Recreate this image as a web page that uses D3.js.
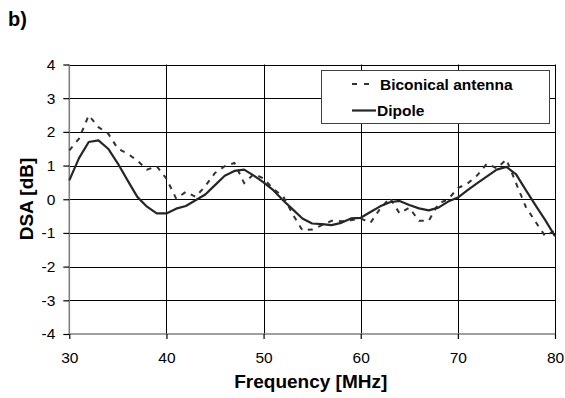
<!DOCTYPE html>
<html>
<head>
<meta charset="utf-8">
<script src="https://cdn.jsdelivr.net/npm/d3@7"></script>
<style>
  html, body { margin: 0; padding: 0; background: #fff; }
  svg { display: block; font-family: "Liberation Sans", Arial, sans-serif; }
</style>
</head>
<body>
<svg id="chart" width="565" height="398"></svg>
<script>
// Frequency points (MHz)
const frequencies = [30,31,32,33,34,35,36,37,38,39,40,41,42,43,44,45,46,47,48,49,50,
  51,52,53,54,55,56,57,58,59,60,61,62,63,64,65,66,67,68,69,70,
  71,72,73,74,75,76,77,78,79,80];

// DSA measured with the biconical antenna [dB]
const biconical = [1.45,1.80,2.49,2.14,1.95,1.50,1.35,1.15,0.88,0.98,0.61,
  0.02,0.22,0.07,0.39,0.78,0.98,1.08,0.48,0.75,0.62,
  0.30,0.10,-0.45,-0.92,-0.90,-0.77,-0.64,-0.65,-0.62,-0.57,
  -0.70,-0.28,0.04,-0.42,-0.25,-0.64,-0.64,-0.13,0.00,0.33,
  0.47,0.71,1.06,0.92,1.18,0.47,-0.23,-0.67,-1.10,-0.92];

// DSA measured with the dipole [dB]
const dipole = [0.56,1.22,1.70,1.75,1.50,1.06,0.56,0.07,-0.22,-0.42,-0.42,
  -0.28,-0.20,-0.03,0.14,0.42,0.70,0.84,0.88,0.70,0.50,
  0.27,-0.03,-0.30,-0.57,-0.72,-0.74,-0.77,-0.70,-0.57,-0.55,
  -0.38,-0.21,-0.09,-0.05,-0.17,-0.27,-0.33,-0.25,-0.07,0.05,
  0.27,0.48,0.68,0.88,0.96,0.74,0.27,-0.18,-0.62,-1.10];

const xTicks = [30,40,50,60,70,80];
const yTicks = [-4,-3,-2,-1,0,1,2,3,4];
const seriesNames = ["Biconical antenna", "Dipole"];

const svg = d3.select("#chart");
const plotLeft = 69.3, plotRight = 555, plotTop = 64.5, plotBottom = 334;

const x = d3.scaleLinear().domain([30, 80]).range([plotLeft, plotRight]);
const y = d3.scaleLinear().domain([-4, 4]).range([plotBottom, plotTop]);

// grid
const grid = svg.append("g");
grid.selectAll("line.h").data(yTicks.filter(d => d > -4)).join("line")
  .attr("x1", plotLeft).attr("x2", plotRight)
  .attr("y1", d => Math.round(y(d)) + 0.5).attr("y2", d => Math.round(y(d)) + 0.5)
  .attr("stroke", "#000").attr("stroke-width", 1);
grid.selectAll("line.v").data(xTicks.filter(d => d > 30)).join("line")
  .attr("y1", plotTop).attr("y2", plotBottom)
  .attr("x1", d => Math.round(x(d)) + 0.5).attr("x2", d => Math.round(x(d)) + 0.5)
  .attr("stroke", "#000").attr("stroke-width", 1);

// axes (plain hyphen for negative labels)
const plain = d => String(d);
const yAxis = svg.append("g")
  .attr("transform", `translate(${plotLeft},0)`)
  .call(d3.axisLeft(y).tickValues(yTicks).tickSize(6).tickPadding(8).tickFormat(plain));
const xAxis = svg.append("g")
  .attr("transform", `translate(0,${plotBottom})`)
  .call(d3.axisBottom(x).tickValues(xTicks).tickSize(5).tickPadding(13).tickFormat(plain));

[yAxis, xAxis].forEach(a => {
  a.select(".domain").attr("stroke", "#808080").attr("stroke-width", 1.6);
  a.selectAll(".tick line").attr("stroke", "#000").attr("stroke-width", 1.2);
  a.selectAll(".tick text").attr("font-size", "15.5px").attr("fill", "#000")
    .attr("font-family", "Liberation Sans, Arial, sans-serif");
});
xAxis.select(".domain").attr("d", `M${plotLeft},0H${plotRight}`);
yAxis.select(".domain").attr("d", `M0,${plotBottom}V${plotTop}`);

// series
const line = d3.line().x((d, i) => x(frequencies[i])).y(d => y(d));
svg.append("path").datum(biconical)
  .attr("d", line).attr("fill", "none")
  .attr("stroke", "#333").attr("stroke-width", 2)
  .attr("stroke-dasharray", "5,6");
svg.append("path").datum(dipole)
  .attr("d", line).attr("fill", "none")
  .attr("stroke", "#262626").attr("stroke-width", 2.2)
  .attr("stroke-linejoin", "round");

// legend
const lg = svg.append("g");
lg.append("rect").attr("x", 321.5).attr("y", 70.5).attr("width", 228).attr("height", 53)
  .attr("fill", "#fff").attr("stroke", "#404040").attr("stroke-width", 1);
lg.append("line").attr("x1", 352).attr("x2", 376).attr("y1", 84).attr("y2", 84)
  .attr("stroke", "#333").attr("stroke-width", 2).attr("stroke-dasharray", "5,7");
lg.append("line").attr("x1", 352).attr("x2", 376).attr("y1", 110.5).attr("y2", 110.5)
  .attr("stroke", "#262626").attr("stroke-width", 2.2);
lg.selectAll("text").data(seriesNames).join("text")
  .attr("x", (d, i) => i === 0 ? 380 : 377)
  .attr("y", (d, i) => i === 0 ? 90 : 116)
  .attr("font-size", "15.5px").attr("font-weight", "bold")
  .text(d => d);

// titles
svg.append("text").attr("x", 310.8).attr("y", 388).attr("text-anchor", "middle")
  .attr("font-size", "19px").attr("font-weight", "bold").text("Frequency [MHz]");
svg.append("text").attr("transform", "translate(33,199) rotate(-90)")
  .attr("text-anchor", "middle").attr("font-size", "19px").attr("font-weight", "bold")
  .text("DSA [dB]");
svg.append("text").attr("x", 8).attr("y", 26)
  .attr("font-size", "20px").attr("font-weight", "bold").text("b)");
</script>
</body>
</html>
